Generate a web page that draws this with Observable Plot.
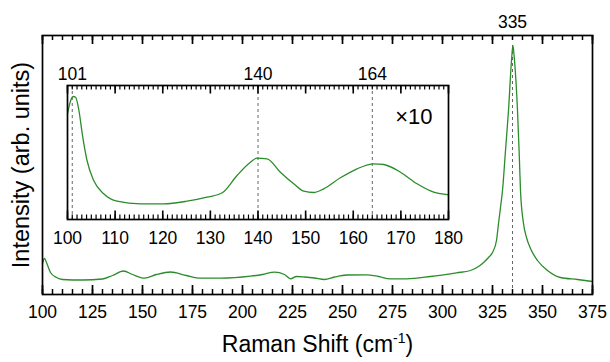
<!DOCTYPE html>
<html><head><meta charset="utf-8">
<script src="https://cdn.jsdelivr.net/npm/d3@7"></script>
<script src="https://cdn.jsdelivr.net/npm/@observablehq/plot@0.6"></script>
<style>
body{margin:0;background:#fff;}
#wrap{position:relative;width:610px;height:362px;}
#inset{position:absolute;left:52px;top:50px;}
</style></head><body><div id="wrap"><div id="main"></div><div id="inset"></div></div>
<script>
// Main spectrum (Raman shift in cm^-1, intensity in arbitrary units)
const mainShift = [100,101,102,104,107,110,120,130,135,140.5,145,151,157,164,172,179,189,204,210,216,221,224,227,231,236,241,246,252,262,268,274,282,294,307,314,318,320.7,323,325,327,328,329,330,331.5,333,334.5,335.2,336,337.5,338.3,339,340.5,342,344,347.5,352.5,359,367.5,375];
const mainIntensity = [31,36,32,22,17,15,14.5,15.5,19,23.5,20,16.3,20,22.5,19,16.3,16.3,18.3,20,22.3,20,15.7,18,17.5,16.5,15,17.5,19.5,19.7,18,15.7,15.7,18,21.7,24,28,32.3,37,42,54,71,87,104,144,184,234,249,234,184,144,104,71,57,46,34,24,17,15,13];
// Inset (x10) spectrum
const insetShift = [100,100.8,101.2,101.7,102.4,103.1,104.1,105.5,107.6,110.4,115.3,120.2,125.1,129.3,132.5,135.6,138.4,139.8,141.9,144.7,147.5,149.6,151.7,153.8,157.3,160.8,164.3,166.4,169.9,173.4,176.9,180];
const insetIntensity = [105.7,120.7,123,122.3,109,85.7,59,39,25.7,18.3,15.7,15.7,18.3,22.3,26.7,44,57.3,61.3,60.7,47.3,35.7,28.3,27,30.7,41.7,50.7,55.7,55,47.3,35.7,27.3,24.7];
// Tick labels and annotations
const mainTickLabels = [100,125,150,175,200,225,250,275,300,325,350,375];
const mainMinorTicks = [100,105,110,115,120,125,130,135,140,145,150,155,160,165,170,175,180,185,190,195,200,205,210,215,220,225,230,235,240,245,250,255,260,265,270,275,280,285,290,295,300,305,310,315,320,325,330,335,340,345,350,355,360,365,370,375];
const insetTickLabels = [100,110,120,130,140,150,160,170,180];
const insetMinorTicks = [100,101,102,103,104,105,106,107,108,109,110,111,112,113,114,115,116,117,118,119,120,121,122,123,124,125,126,127,128,129,130,131,132,133,134,135,136,137,138,139,140,141,142,143,144,145,146,147,148,149,150,151,152,153,154,155,156,157,158,159,160,161,162,163,164,165,166,167,168,169,170,171,172,173,174,175,176,177,178,179,180];
const mainPeakLabels = [335];
const insetPeakLabels = [101,140,164];
const magnification = "×10";
const xTitle = "Raman Shift (cm";
const xTitleSup = "-1";
const xTitleEnd = ")";
const yTitle = "Intensity (arb. units)";

const FONT = "'Liberation Sans', Arial, Helvetica, sans-serif";
const GREEN = "#2b8c2b";
const DASH = "#666";
const TICKFS = 17.5;

const mainData = mainShift.map((s, i) => ({shift: s, intensity: mainIntensity[i]}));
const insetData = insetShift.map((s, i) => ({shift: s, intensity: insetIntensity[i]}));
const peakTop = d3.max(mainIntensity);

// inward tick marks: rules spanning the frame, shrunk by pixel insets
function inwardTicks(values, plotH, len, side, sw) {
  const opts = {stroke: "black", strokeWidth: sw};
  if (side === "bottom") opts.insetTop = plotH - len; else opts.insetBottom = plotH - len;
  return Plot.ruleX(values, opts);
}

const M = {w: 610, h: 362, l: 42, r: 18, t: 35, b: 68};
const mainY = [0, 259];
const mainH = M.h - M.t - M.b;

const main = Plot.plot({
  width: M.w, height: M.h,
  marginLeft: M.l, marginRight: M.r, marginTop: M.t, marginBottom: M.b,
  x: {domain: [100, 375]},
  y: {domain: mainY, axis: null},
  style: {fontFamily: FONT, fontSize: TICKFS + "px", background: "white", color: "black"},
  marks: [
    Plot.ruleX(mainPeakLabels, {y1: 0, y2: peakTop, stroke: DASH, strokeDasharray: "3,3", strokeWidth: 1}),
    Plot.line(mainData, {x: "shift", y: "intensity", stroke: GREEN, strokeWidth: 1.3, curve: "monotone-x"}),
    inwardTicks(mainMinorTicks, mainH, 5, "bottom", 1.5),
    inwardTicks(mainTickLabels, mainH, 9, "bottom", 1.7),
    inwardTicks(mainMinorTicks, mainH, 5, "top", 1.5),
    inwardTicks(mainTickLabels, mainH, 9, "top", 1.7),
    Plot.axisX(mainTickLabels, {anchor: "bottom", tickSize: 0, tickPadding: 11, label: null, fontSize: TICKFS}),
    Plot.axisX(mainPeakLabels, {anchor: "top", tickSize: 0, tickPadding: 8, label: null, fontSize: TICKFS}),
    Plot.frame({stroke: "black", strokeWidth: 1.7}),
    Plot.text([yTitle], {frameAnchor: "left", textAnchor: "middle", rotate: -90, dx: -21, fontSize: 23.5}),
    Plot.text([xTitle], {frameAnchor: "bottom", dy: 57, fontSize: 23})
  ]
});
document.getElementById("main").appendChild(main);

// superscript for the x title
d3.select(main).selectAll("text").filter(function() { return this.textContent === xTitle; }).each(function() {
  const t = d3.select(this);
  t.text(null);
  t.append("tspan").text(xTitle);
  t.append("tspan").attr("dy", "-9").attr("font-size", "14").text(xTitleSup);
  t.append("tspan").attr("dy", "9").text(xTitleEnd);
});

const I = {w: 411, h: 204, l: 15, r: 15, t: 35, b: 35};
const insetY = [0, 134];
const insetH = I.h - I.t - I.b;

const inset = Plot.plot({
  width: I.w, height: I.h,
  marginLeft: I.l, marginRight: I.r, marginTop: I.t, marginBottom: I.b,
  x: {domain: [100, 180]},
  y: {domain: insetY, axis: null},
  style: {fontFamily: FONT, fontSize: TICKFS + "px", background: "transparent", color: "black"},
  marks: [
    Plot.frame({fill: "white"}),
    Plot.ruleX(insetPeakLabels, {stroke: DASH, strokeDasharray: "3,3", strokeWidth: 1}),
    Plot.line(insetData, {x: "shift", y: "intensity", stroke: GREEN, strokeWidth: 1.3, curve: "monotone-x"}),
    inwardTicks(insetMinorTicks, insetH, 4.5, "bottom", 1.2),
    inwardTicks(insetTickLabels, insetH, 8.5, "bottom", 1.6),
    inwardTicks(insetMinorTicks, insetH, 4.5, "top", 1.2),
    inwardTicks(insetTickLabels, insetH, 8.5, "top", 1.6),
    Plot.axisX(insetTickLabels, {anchor: "bottom", tickSize: 0, tickPadding: 12, label: null, fontSize: TICKFS}),
    Plot.axisX(insetPeakLabels, {anchor: "top", tickSize: 0, tickPadding: 6, label: null, fontSize: TICKFS}),
    Plot.frame({stroke: "black", strokeWidth: 1.7}),
    Plot.text([magnification], {frameAnchor: "top-right", textAnchor: "end", dx: -16, dy: 23, fontSize: 22})
  ]
});
document.getElementById("inset").appendChild(inset);
</script></body></html>
